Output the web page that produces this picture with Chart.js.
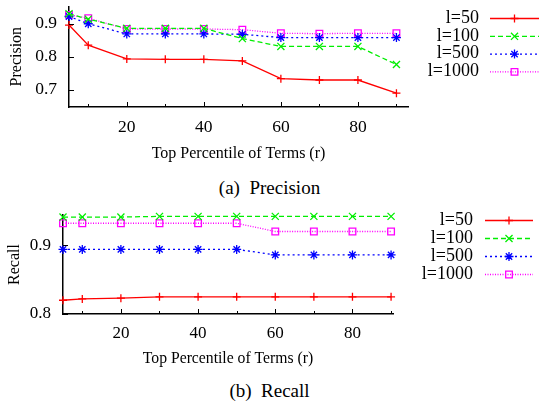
<!DOCTYPE html>
<html>
<head>
<meta charset="utf-8">
<script src="https://cdn.jsdelivr.net/npm/chart.js@4/dist/chart.umd.min.js"></script>
<style>
body { margin: 0; background: #fff; width: 539px; height: 403px; position: relative; overflow: hidden; font-family: "Liberation Serif", serif; }
canvas { position: absolute; left: 0; }
#precisionChart { top: 0; }
#recallChart { top: 200px; }
.cap { position: absolute; left: 0; width: 539px; text-align: center; font-size: 19px; line-height: 22px; color: #000; }
</style>
</head>
<body>
<canvas id="precisionChart" width="539" height="165"></canvas>
<div class="cap" style="top:177px">(a)&nbsp; Precision</div>
<canvas id="recallChart" width="539" height="168"></canvas>
<div class="cap" style="top:380px">(b)&nbsp; Recall</div>
<script>
var percentiles = [5, 10, 20, 30, 40, 50, 60, 70, 80, 90];
var seriesNames = ['l=50', 'l=100', 'l=500', 'l=1000'];
var xTicks = [10, 20, 30, 40, 50, 60, 70, 80, 90];
var xLabels = [20, 40, 60, 80];

var precision50 = [0.896, 0.835, 0.793, 0.792, 0.792, 0.787, 0.733, 0.729, 0.729, 0.689];
var precision100 = [0.930, 0.914, 0.886, 0.886, 0.886, 0.855, 0.831, 0.831, 0.831, 0.776];
var precision500 = [0.922, 0.900, 0.869, 0.869, 0.869, 0.868, 0.858, 0.858, 0.858, 0.858];
var precision1000 = [0.927, 0.917, 0.884, 0.884, 0.884, 0.882, 0.871, 0.870, 0.871, 0.871];
var precisionTicks = [0.7, 0.8, 0.9];

var recall50 = [0.820, 0.822, 0.823, 0.825, 0.825, 0.825, 0.825, 0.825, 0.825, 0.825];
var recall100 = [0.941, 0.941, 0.941, 0.942, 0.942, 0.942, 0.942, 0.942, 0.942, 0.942];
var recall500 = [0.894, 0.894, 0.894, 0.894, 0.894, 0.894, 0.886, 0.886, 0.886, 0.886];
var recall1000 = [0.932, 0.932, 0.932, 0.932, 0.932, 0.932, 0.920, 0.920, 0.920, 0.920];
var recallTicks = [0.8, 0.9];

var styles = [
  { color: '#ff0000', dash: [], point: 'cross', radius: 4 },
  { color: '#00ee00', dash: [5, 3], point: 'crossRot', radius: 5 },
  { color: '#0000ff', dash: [2, 3], point: 'star', radius: 4.5 },
  { color: '#ff00ff', dash: [1, 1.5], point: 'rect', radius: 4.7 }
];

function makeDatasets(series) {
  return series.map(function (values, i) {
    var s = styles[i];
    return {
      label: seriesNames[i],
      data: values.map(function (v, j) { return { x: percentiles[j], y: v }; }),
      borderColor: s.color,
      backgroundColor: 'rgba(0,0,0,0)',
      pointBorderColor: s.color,
      pointBackgroundColor: 'rgba(0,0,0,0)',
      borderDash: s.dash,
      borderWidth: 1.3,
      pointStyle: s.point,
      pointRadius: s.radius,
      pointBorderWidth: 1.3,
      tension: 0,
      clip: false
    };
  });
}

// gnuplot style ticks pointing into the plot
var innerTicks = {
  id: 'innerTicks',
  afterDraw: function (chart) {
    var ctx = chart.ctx, a = chart.chartArea;
    var xs = chart.scales.x, ys = chart.scales.y;
    ctx.save();
    ctx.strokeStyle = '#000';
    ctx.lineWidth = 1;
    xs.ticks.forEach(function (t) {
      var px = Math.round(xs.getPixelForValue(t.value)) + 0.5;
      var len = xLabels.indexOf(t.value) >= 0 ? 5 : 3;
      ctx.beginPath(); ctx.moveTo(px, a.bottom); ctx.lineTo(px, a.bottom - len); ctx.stroke();
    });
    ys.ticks.forEach(function (t) {
      var py = Math.round(ys.getPixelForValue(t.value)) + 0.5;
      ctx.beginPath(); ctx.moveTo(a.left, py); ctx.lineTo(a.left + 5, py); ctx.stroke();
    });
    ctx.restore();
  }
};

// key on the right: label right aligned, then line sample with marker
var sideKey = {
  id: 'sideKey',
  afterDraw: function (chart) {
    var k = chart.options.plugins.sideKey;
    var ctx = chart.ctx;
    ctx.save();
    chart.data.datasets.forEach(function (ds, i) {
      var y = k.top + i * k.step;
      ctx.fillStyle = '#000';
      ctx.font = '18px "Liberation Serif", serif';
      ctx.textAlign = 'right';
      ctx.textBaseline = 'middle';
      ctx.fillText(ds.label, k.textRight, y);
      ctx.strokeStyle = ds.borderColor;
      ctx.lineWidth = ds.borderWidth;
      ctx.setLineDash(ds.borderDash);
      ctx.beginPath(); ctx.moveTo(k.lineFrom, y + 0.5); ctx.lineTo(k.lineTo, y + 0.5); ctx.stroke();
      ctx.setLineDash([]);
      ctx.lineWidth = ds.pointBorderWidth;
      ctx.fillStyle = ds.pointBackgroundColor;
      Chart.helpers.drawPoint(ctx, { pointStyle: ds.pointStyle, radius: ds.pointRadius, rotation: 0, borderWidth: ds.pointBorderWidth }, (k.lineFrom + k.lineTo) / 2, y + 0.5);
    });
    ctx.restore();
  }
};

function makeChart(id, series, yTicks, box) {
  return new Chart(document.getElementById(id), {
    type: 'line',
    data: { datasets: makeDatasets(series) },
    plugins: [innerTicks, sideKey],
    options: {
      responsive: false,
      animation: false,
      layout: { padding: { left: 0, top: box.top, right: box.right, bottom: 0 } },
      plugins: {
        legend: { display: false },
        tooltip: { enabled: false },
        sideKey: box.key
      },
      scales: {
        x: {
          type: 'linear',
          min: 5,
          max: box.xMax,
          afterBuildTicks: function (scale) { scale.ticks = xTicks.map(function (v) { return { value: v }; }); },
          afterFit: function (scale) { scale.height = box.xHeight; scale.paddingLeft = 0; scale.paddingRight = 0; },
          grid: { display: false, drawTicks: false },
          border: { display: true, color: '#000', width: 1.5 },
          ticks: {
            color: '#000',
            padding: box.xPad,
            maxRotation: 0,
            autoSkip: false,
            font: { family: '"Liberation Serif", serif', size: box.tickSize },
            callback: function (v) { return xLabels.indexOf(v) >= 0 ? String(v) : ''; }
          },
          title: {
            display: true,
            text: 'Top Percentile of Terms (r)',
            color: '#000',
            font: { family: '"Liberation Serif", serif', size: box.titleSize },
            padding: { top: 0, bottom: box.xTitlePad }
          }
        },
        y: {
          min: box.yMin,
          max: box.yMax,
          afterBuildTicks: function (scale) { scale.ticks = yTicks.map(function (v) { return { value: v }; }); },
          afterFit: function (scale) { scale.width = box.yWidth; scale.paddingTop = 0; scale.paddingBottom = 0; },
          grid: { display: false, drawTicks: false },
          border: { display: true, color: '#000', width: 1.5 },
          ticks: {
            color: '#000',
            padding: 12,
            font: { family: '"Liberation Serif", serif', size: box.tickSize },
            callback: function (v) { return v.toFixed(1); }
          },
          title: {
            display: true,
            text: box.yTitle,
            color: '#000',
            font: { family: '"Liberation Serif", serif', size: 16 },
            padding: { top: box.yTitlePad, bottom: 0 }
          }
        }
      }
    }
  });
}

makeChart('precisionChart', [precision50, precision100, precision500, precision1000], precisionTicks, {
  top: 5, right: 131, xMax: 93, yMin: 0.647, yMax: 0.953, xHeight: 58, yWidth: 69,
  xPad: 10, xTitlePad: 2, yTitlePad: 7, tickSize: 17.5, titleSize: 16, yTitle: 'Precision',
  key: { top: 18, step: 17.8, textRight: 479, lineFrom: 490, lineTo: 539 }
});

makeChart('recallChart', [recall50, recall100, recall500, recall1000], recallTicks, {
  top: 15, right: 146, xMax: 90.5, yMin: 0.8, yMax: 0.944, xHeight: 54, yWidth: 63,
  xPad: 9, xTitlePad: 0, yTitlePad: 5, tickSize: 17, titleSize: 15.7, yTitle: 'Recall',
  key: { top: 20, step: 18, textRight: 473, lineFrom: 485, lineTo: 533 }
});
</script>
</body>
</html>
